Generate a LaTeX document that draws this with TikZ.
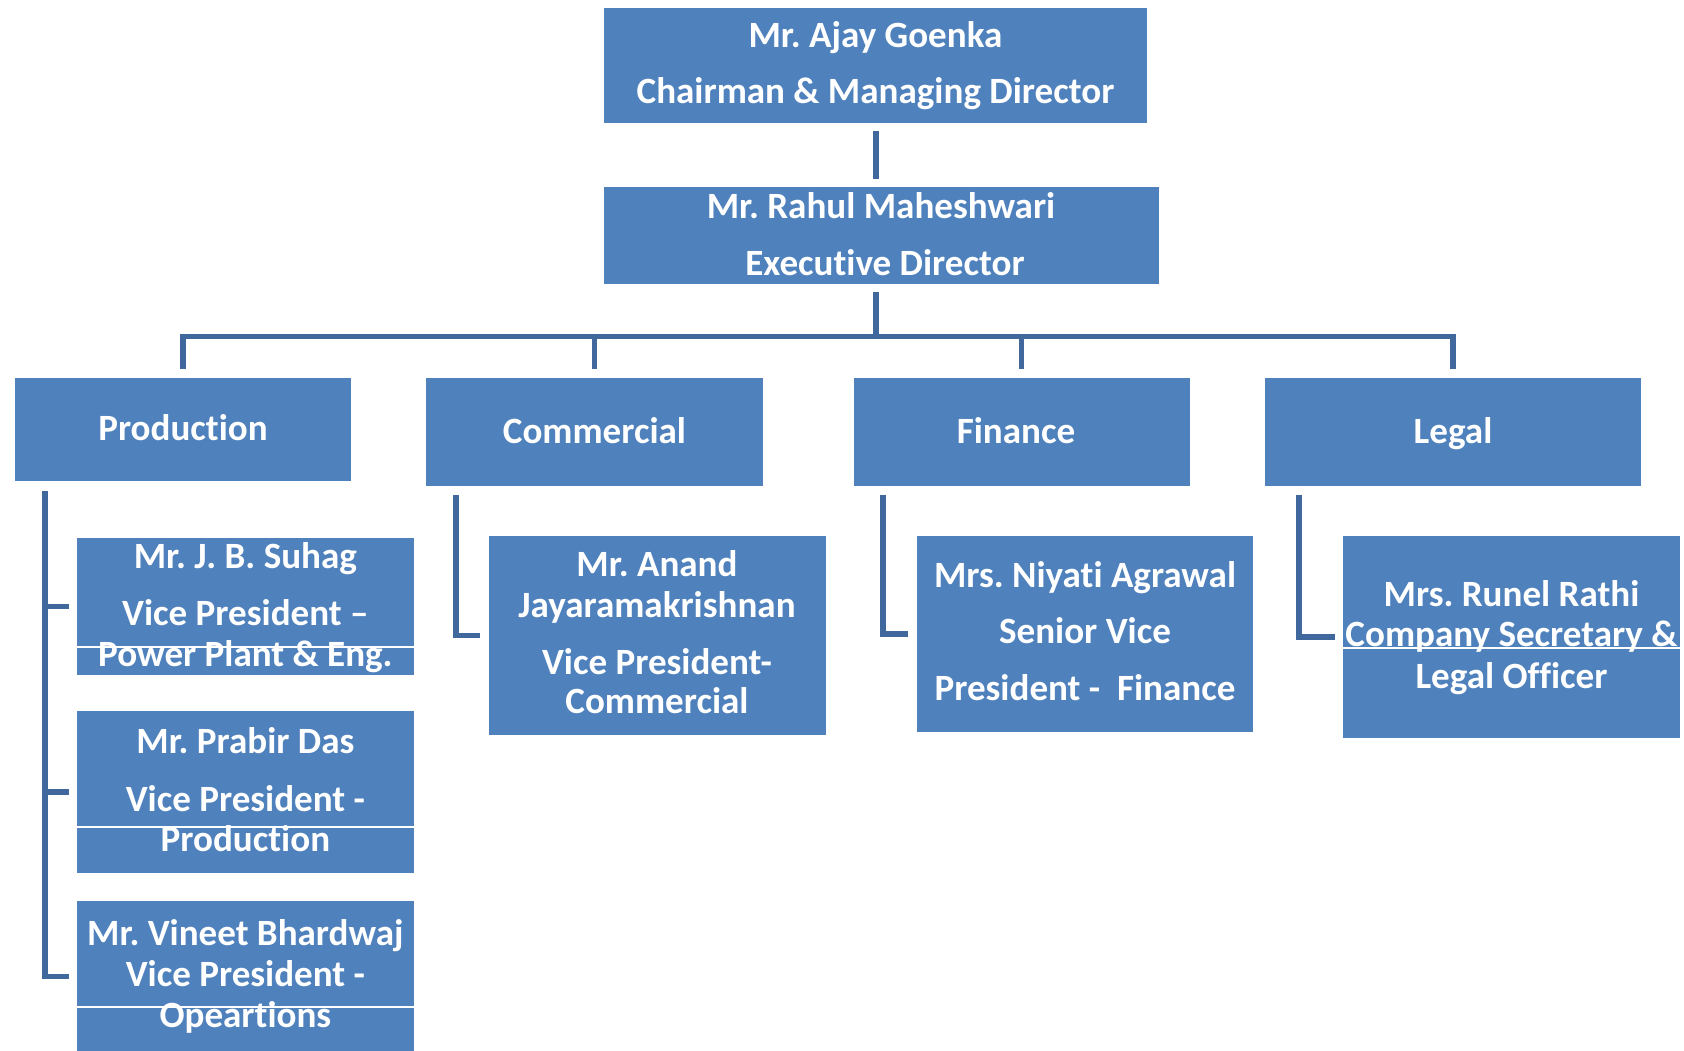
\documentclass[tikz,border=0pt]{standalone}
\usepackage{fontspec}
\setmainfont{Carlito}[Ligatures=NoCommon]
\usetikzlibrary{fit}
\definecolor{boxblue}{HTML}{4F81BD}
\definecolor{linkblue}{HTML}{41689C}
\frenchspacing
\begin{document}
\begin{tikzpicture}[x=0.75pt,y=-0.75pt,
  box/.style={fill=boxblue,draw=none,inner sep=0pt,rectangle},
  tx/.style={text=white,anchor=base,inner sep=0pt,font=\bfseries\fontsize{27.8}{33}\selectfont},
  conn/.style={draw=linkblue,line width=3.8pt,line join=miter},
  sep/.style={draw=white,line width=0.8pt}]
\useasboundingbox (0,0) rectangle (1684,1050);
% ---- boxes
\node[box,fit={(604,7.5) (1147,122.5)}] (A) {};
\node[box,fit={(604,187) (1158.6,283.5)}] (B) {};
\node[box,fit={(15,378) (351,481)}] (prod) {};
\node[box,fit={(426.4,378) (762.5,485.5)}] (comm) {};
\node[box,fit={(853.8,378) (1190,485.5)}] (fin) {};
\node[box,fit={(1265,378) (1641,485.5)}] (legal) {};
\node[box,fit={(77.3,538) (413.5,674.5)}] (jb) {};
\node[box,fit={(77.3,711) (413.5,873)}] (pd) {};
\node[box,fit={(77.3,901) (413.5,1052)}] (vb) {};
\node[box,fit={(489,536) (825.5,735)}] (vpc) {};
\node[box,fit={(917,536) (1253,732)}] (svp) {};
\node[box,fit={(1343,536) (1680,738)}] (cs) {};
% ---- thin white separators
\draw[sep] (jb.west |- 0,647) -- (jb.east |- 0,647);
\draw[sep] (pd.west |- 0,827) -- (pd.east |- 0,827);
\draw[sep] (vb.west |- 0,1007) -- (vb.east |- 0,1007);
\draw[sep] (cs.west |- 0,648) -- (cs.east |- 0,648);
% ---- connectors
\draw[conn,shorten <=6pt,shorten >=6pt] (A.south -| 876,0) -- (B.north -| 876,0);
\coordinate (bus) at (876,336.7);
\draw[conn,shorten <=6.4pt] (bus |- B.south) -- (bus);
\draw[conn,shorten >=6.8pt] (bus) -| (prod.north);
\draw[conn,shorten >=6.8pt] (bus) -| (comm.north);
\draw[conn,shorten >=6.8pt] (bus) -| (fin.north);
\draw[conn,shorten >=6.8pt] (bus) -| (legal.north);
\coordinate (pv) at (45,491);
\draw[conn,shorten >=6.2pt] (pv) |- (vb.west);
\draw[conn,shorten >=6.2pt] (pv |- jb.west) -- (jb.west);
\draw[conn,shorten >=6.2pt] (pv |- pd.west) -- (pd.west);
\coordinate (cv) at (456,495);
\draw[conn,shorten >=6.2pt] (cv) |- (vpc.west);
\coordinate (fv) at (883,495);
\draw[conn,shorten >=6.2pt] (fv) |- (svp.west);
\coordinate (lv) at (1299,495);
\draw[conn,shorten >=6pt] (lv) |- (cs.west);
% ---- texts
\node[tx] (a1) at (875.5,47) {Mr. Ajay Goenka};
\node[tx] (a2) at (875.5,103.5) {Chairman \& Managing Director};
\node[tx] (b1) at (881,218.5) {Mr. Rahul Maheshwari};
\node[tx] (b2) at (885,275) {Executive Director};
\node[tx] (p1) at (183,440.5) {Production};
\node[tx] (c1) at (594.5,443.7) {Commercial};
\node[tx] (f1) at (1016,443.7) {Finance};
\node[tx] (l1) at (1453,443.7) {Legal};
\node[tx] (jb1) at (245.4,568) {Mr. J. B. Suhag};
\node[tx] (jb2) at (245.4,625) {Vice President –};
\node[tx] (jb3) at (245.4,666) {Power Plant \& Eng.};
\node[tx] (pd1) at (245.4,753.5) {Mr. Prabir Das};
\node[tx] (pd2) at (245.4,811) {Vice President -};
\node[tx] (pd3) at (245.4,851.6) {Production};
\node[tx] (vb1) at (245.4,945.5) {Mr. Vineet Bhardwaj};
\node[tx] (vb2) at (245.4,986) {Vice President -};
\node[tx] (vb3) at (245.4,1027) {Opeartions};
\node[tx] (vc1) at (657,576.5) {Mr. Anand};
\node[tx] (vc2) at (657,617) {Jayaramakrishnan};
\node[tx] (vc3) at (657,674) {Vice President-};
\node[tx] (vc4) at (657,713) {Commercial};
\node[tx] (sv1) at (1085,587) {Mrs. Niyati Agrawal};
\node[tx] (sv2) at (1085,643) {Senior Vice};
\node[tx] (sv3) at (1085,700.5) {President -\ \ Finance};
\node[tx] (cs1) at (1511.5,606.7) {Mrs. Runel Rathi};
\node[tx] (cs2) at (1511.5,646.7) {Company Secretary \&};
\node[tx] (cs3) at (1511.5,688) {Legal Officer};
\end{tikzpicture}
\end{document}
